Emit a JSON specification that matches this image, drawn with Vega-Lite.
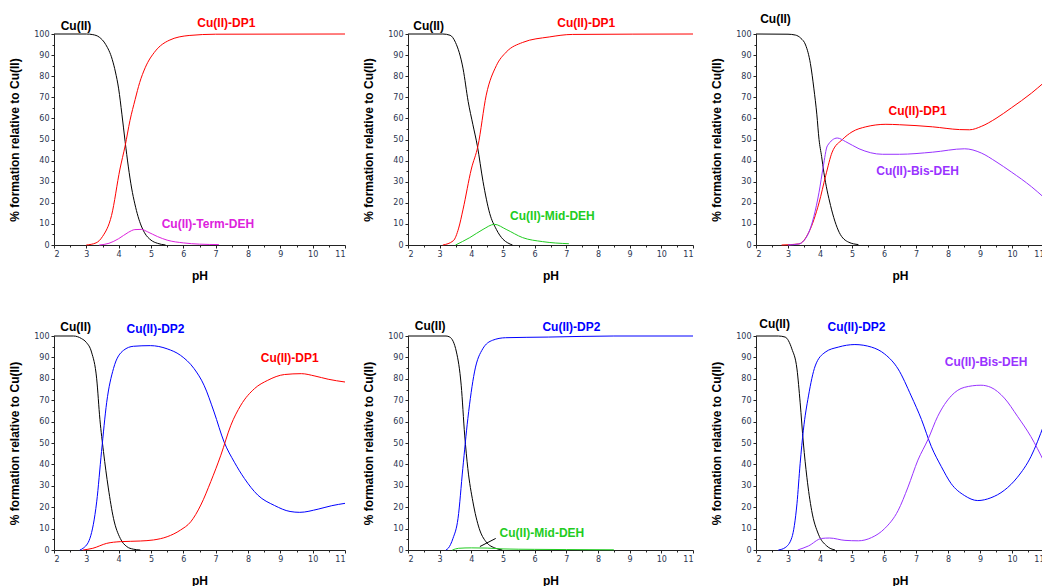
{
"$schema": "https://vega.github.io/schema/vega-lite/v6.json",
"background": "white",
"padding": {"left": 8, "top": 13, "right": 0, "bottom": 0},
"config": {
 "view": {"stroke": null},
 "axis": {"grid": false, "domainColor": "#222", "tickColor": "#222", "labelFont": "DejaVu Sans", "labelFontSize": 8, "labelColor": "#2a3550", "titleFont": "Liberation Sans", "titleFontSize": 12, "titleFontWeight": "bold", "titleColor": "#000", "domainWidth": 1, "tickWidth": 1}
},
"datasets": {
 "curves": [
  {"panel":1,"species":"Cu(II)","pH":2,"pct":100},{"panel":1,"species":"Cu(II)","pH":3,"pct":100},{"panel":1,"species":"Cu(II)","pH":3.2,"pct":99.7},{"panel":1,"species":"Cu(II)","pH":3.4,"pct":98.5},{"panel":1,"species":"Cu(II)","pH":3.6,"pct":95},{"panel":1,"species":"Cu(II)","pH":3.8,"pct":88},{"panel":1,"species":"Cu(II)","pH":3.9,"pct":82},{"panel":1,"species":"Cu(II)","pH":4.0,"pct":74},{"panel":1,"species":"Cu(II)","pH":4.1,"pct":62},{"panel":1,"species":"Cu(II)","pH":4.2,"pct":49},{"panel":1,"species":"Cu(II)","pH":4.3,"pct":37},{"panel":1,"species":"Cu(II)","pH":4.4,"pct":27},{"panel":1,"species":"Cu(II)","pH":4.5,"pct":19.5},{"panel":1,"species":"Cu(II)","pH":4.6,"pct":13.5},{"panel":1,"species":"Cu(II)","pH":4.7,"pct":9},{"panel":1,"species":"Cu(II)","pH":4.8,"pct":5.8},{"panel":1,"species":"Cu(II)","pH":5.0,"pct":2.3},{"panel":1,"species":"Cu(II)","pH":5.2,"pct":0.8},{"panel":1,"species":"Cu(II)","pH":5.45,"pct":0},
  {"panel":1,"species":"Cu(II)-DP1","pH":3.0,"pct":0},{"panel":1,"species":"Cu(II)-DP1","pH":3.3,"pct":1},{"panel":1,"species":"Cu(II)-DP1","pH":3.5,"pct":4},{"panel":1,"species":"Cu(II)-DP1","pH":3.78,"pct":14},{"panel":1,"species":"Cu(II)-DP1","pH":4.04,"pct":36},{"panel":1,"species":"Cu(II)-DP1","pH":4.2,"pct":47},{"panel":1,"species":"Cu(II)-DP1","pH":4.35,"pct":59},{"panel":1,"species":"Cu(II)-DP1","pH":4.51,"pct":69},{"panel":1,"species":"Cu(II)-DP1","pH":4.65,"pct":77},{"panel":1,"species":"Cu(II)-DP1","pH":4.82,"pct":84},{"panel":1,"species":"Cu(II)-DP1","pH":5.14,"pct":92},{"panel":1,"species":"Cu(II)-DP1","pH":5.56,"pct":97},{"panel":1,"species":"Cu(II)-DP1","pH":6.18,"pct":99.3},{"panel":1,"species":"Cu(II)-DP1","pH":7,"pct":99.9},{"panel":1,"species":"Cu(II)-DP1","pH":11,"pct":100},
  {"panel":1,"species":"Cu(II)-Term-DEH","pH":3.4,"pct":0},{"panel":1,"species":"Cu(II)-Term-DEH","pH":3.7,"pct":0.8},{"panel":1,"species":"Cu(II)-Term-DEH","pH":4.0,"pct":3},{"panel":1,"species":"Cu(II)-Term-DEH","pH":4.3,"pct":6},{"panel":1,"species":"Cu(II)-Term-DEH","pH":4.5,"pct":7.3},{"panel":1,"species":"Cu(II)-Term-DEH","pH":4.7,"pct":7.4},{"panel":1,"species":"Cu(II)-Term-DEH","pH":4.9,"pct":6.2},{"panel":1,"species":"Cu(II)-Term-DEH","pH":5.2,"pct":4},{"panel":1,"species":"Cu(II)-Term-DEH","pH":5.5,"pct":2.3},{"panel":1,"species":"Cu(II)-Term-DEH","pH":6.0,"pct":1},{"panel":1,"species":"Cu(II)-Term-DEH","pH":6.5,"pct":0.4},{"panel":1,"species":"Cu(II)-Term-DEH","pH":7.1,"pct":0.2},

  {"panel":2,"species":"Cu(II)","pH":2,"pct":100},{"panel":2,"species":"Cu(II)","pH":3.1,"pct":100},{"panel":2,"species":"Cu(II)","pH":3.33,"pct":99.4},{"panel":2,"species":"Cu(II)","pH":3.5,"pct":96},{"panel":2,"species":"Cu(II)","pH":3.74,"pct":83.5},{"panel":2,"species":"Cu(II)","pH":3.9,"pct":68},{"panel":2,"species":"Cu(II)","pH":4.05,"pct":57},{"panel":2,"species":"Cu(II)","pH":4.19,"pct":47},{"panel":2,"species":"Cu(II)","pH":4.37,"pct":30},{"panel":2,"species":"Cu(II)","pH":4.58,"pct":15},{"panel":2,"species":"Cu(II)","pH":4.79,"pct":7.4},{"panel":2,"species":"Cu(II)","pH":5.0,"pct":2.7},{"panel":2,"species":"Cu(II)","pH":5.15,"pct":1},{"panel":2,"species":"Cu(II)","pH":5.3,"pct":0},
  {"panel":2,"species":"Cu(II)-DP1","pH":3.1,"pct":0},{"panel":2,"species":"Cu(II)-DP1","pH":3.43,"pct":2},{"panel":2,"species":"Cu(II)-DP1","pH":3.6,"pct":8},{"panel":2,"species":"Cu(II)-DP1","pH":3.74,"pct":17},{"panel":2,"species":"Cu(II)-DP1","pH":4.0,"pct":36},{"panel":2,"species":"Cu(II)-DP1","pH":4.21,"pct":47},{"panel":2,"species":"Cu(II)-DP1","pH":4.47,"pct":71},{"panel":2,"species":"Cu(II)-DP1","pH":4.79,"pct":85},{"panel":2,"species":"Cu(II)-DP1","pH":5.1,"pct":91.4},{"panel":2,"species":"Cu(II)-DP1","pH":5.62,"pct":96},{"panel":2,"species":"Cu(II)-DP1","pH":6.46,"pct":98.6},{"panel":2,"species":"Cu(II)-DP1","pH":7.2,"pct":99.8},{"panel":2,"species":"Cu(II)-DP1","pH":11,"pct":100},
  {"panel":2,"species":"Cu(II)-Mid-DEH","pH":3.5,"pct":0},{"panel":2,"species":"Cu(II)-Mid-DEH","pH":3.95,"pct":3.5},{"panel":2,"species":"Cu(II)-Mid-DEH","pH":4.37,"pct":7.4},{"panel":2,"species":"Cu(II)-Mid-DEH","pH":4.73,"pct":9.8},{"panel":2,"species":"Cu(II)-Mid-DEH","pH":5.1,"pct":7.4},{"panel":2,"species":"Cu(II)-Mid-DEH","pH":5.62,"pct":3.5},{"panel":2,"species":"Cu(II)-Mid-DEH","pH":6.25,"pct":1.6},{"panel":2,"species":"Cu(II)-Mid-DEH","pH":7.08,"pct":0.6},

  {"panel":3,"species":"Cu(II)","pH":2,"pct":100},{"panel":3,"species":"Cu(II)","pH":3.0,"pct":99.9},{"panel":3,"species":"Cu(II)","pH":3.23,"pct":99.5},{"panel":3,"species":"Cu(II)","pH":3.4,"pct":98},{"panel":3,"species":"Cu(II)","pH":3.55,"pct":94.8},{"panel":3,"species":"Cu(II)","pH":3.7,"pct":86},{"panel":3,"species":"Cu(II)","pH":3.81,"pct":74},{"panel":3,"species":"Cu(II)","pH":3.9,"pct":62},{"panel":3,"species":"Cu(II)","pH":3.97,"pct":50},{"panel":3,"species":"Cu(II)","pH":4.05,"pct":42},{"panel":3,"species":"Cu(II)","pH":4.12,"pct":34.5},{"panel":3,"species":"Cu(II)","pH":4.33,"pct":18.7},{"panel":3,"species":"Cu(II)","pH":4.6,"pct":6},{"panel":3,"species":"Cu(II)","pH":4.9,"pct":1.3},{"panel":3,"species":"Cu(II)","pH":5.2,"pct":0.2},
  {"panel":3,"species":"Cu(II)-DP1","pH":2.8,"pct":0},{"panel":3,"species":"Cu(II)-DP1","pH":3.34,"pct":0.5},{"panel":3,"species":"Cu(II)-DP1","pH":3.65,"pct":6},{"panel":3,"species":"Cu(II)-DP1","pH":3.97,"pct":20},{"panel":3,"species":"Cu(II)-DP1","pH":4.18,"pct":33},{"panel":3,"species":"Cu(II)-DP1","pH":4.38,"pct":44},{"panel":3,"species":"Cu(II)-DP1","pH":4.7,"pct":50},{"panel":3,"species":"Cu(II)-DP1","pH":5.0,"pct":53.6},{"panel":3,"species":"Cu(II)-DP1","pH":5.43,"pct":56},{"panel":3,"species":"Cu(II)-DP1","pH":6.06,"pct":57.2},{"panel":3,"species":"Cu(II)-DP1","pH":6.48,"pct":57},{"panel":3,"species":"Cu(II)-DP1","pH":7.52,"pct":56},{"panel":3,"species":"Cu(II)-DP1","pH":8.36,"pct":54.7},{"panel":3,"species":"Cu(II)-DP1","pH":8.67,"pct":54.6},{"panel":3,"species":"Cu(II)-DP1","pH":9.04,"pct":56.2},{"panel":3,"species":"Cu(II)-DP1","pH":9.5,"pct":60},{"panel":3,"species":"Cu(II)-DP1","pH":9.98,"pct":65},{"panel":3,"species":"Cu(II)-DP1","pH":10.61,"pct":72},{"panel":3,"species":"Cu(II)-DP1","pH":11,"pct":77},
  {"panel":3,"species":"Cu(II)-Bis-DEH","pH":3.0,"pct":0},{"panel":3,"species":"Cu(II)-Bis-DEH","pH":3.34,"pct":0.5},{"panel":3,"species":"Cu(II)-Bis-DEH","pH":3.65,"pct":6},{"panel":3,"species":"Cu(II)-Bis-DEH","pH":3.97,"pct":25},{"panel":3,"species":"Cu(II)-Bis-DEH","pH":4.1,"pct":37},{"panel":3,"species":"Cu(II)-Bis-DEH","pH":4.23,"pct":47},{"panel":3,"species":"Cu(II)-Bis-DEH","pH":4.54,"pct":50.7},{"panel":3,"species":"Cu(II)-Bis-DEH","pH":4.8,"pct":49},{"panel":3,"species":"Cu(II)-Bis-DEH","pH":5.22,"pct":45.6},{"panel":3,"species":"Cu(II)-Bis-DEH","pH":5.95,"pct":43},{"panel":3,"species":"Cu(II)-Bis-DEH","pH":6.48,"pct":43},{"panel":3,"species":"Cu(II)-Bis-DEH","pH":7.52,"pct":44},{"panel":3,"species":"Cu(II)-Bis-DEH","pH":8.52,"pct":45.6},{"panel":3,"species":"Cu(II)-Bis-DEH","pH":9.04,"pct":43.6},{"panel":3,"species":"Cu(II)-Bis-DEH","pH":9.5,"pct":39.5},{"panel":3,"species":"Cu(II)-Bis-DEH","pH":9.98,"pct":34.6},{"panel":3,"species":"Cu(II)-Bis-DEH","pH":10.61,"pct":27.6},{"panel":3,"species":"Cu(II)-Bis-DEH","pH":11,"pct":22.5},

  {"panel":4,"species":"Cu(II)","pH":2,"pct":100},{"panel":4,"species":"Cu(II)","pH":2.6,"pct":100},{"panel":4,"species":"Cu(II)","pH":2.85,"pct":98.8},{"panel":4,"species":"Cu(II)","pH":3.0,"pct":97},{"panel":4,"species":"Cu(II)","pH":3.16,"pct":92.5},{"panel":4,"species":"Cu(II)","pH":3.32,"pct":80},{"panel":4,"species":"Cu(II)","pH":3.42,"pct":61},{"panel":4,"species":"Cu(II)","pH":3.53,"pct":46},{"panel":4,"species":"Cu(II)","pH":3.68,"pct":29},{"panel":4,"species":"Cu(II)","pH":3.84,"pct":14.8},{"panel":4,"species":"Cu(II)","pH":4.05,"pct":5.4},{"panel":4,"species":"Cu(II)","pH":4.25,"pct":1.6},{"panel":4,"species":"Cu(II)","pH":4.45,"pct":0.4},{"panel":4,"species":"Cu(II)","pH":4.67,"pct":0},
  {"panel":4,"species":"Cu(II)-DP2","pH":2.8,"pct":0},{"panel":4,"species":"Cu(II)-DP2","pH":2.9,"pct":0.8},{"panel":4,"species":"Cu(II)-DP2","pH":3.11,"pct":5.4},{"panel":4,"species":"Cu(II)-DP2","pH":3.32,"pct":22.5},{"panel":4,"species":"Cu(II)-DP2","pH":3.47,"pct":46},{"panel":4,"species":"Cu(II)-DP2","pH":3.63,"pct":69},{"panel":4,"species":"Cu(II)-DP2","pH":3.84,"pct":84.8},{"panel":4,"species":"Cu(II)-DP2","pH":4.15,"pct":93.3},{"panel":4,"species":"Cu(II)-DP2","pH":4.46,"pct":95.2},{"panel":4,"species":"Cu(II)-DP2","pH":4.98,"pct":95.5},{"panel":4,"species":"Cu(II)-DP2","pH":5.5,"pct":94},{"panel":4,"species":"Cu(II)-DP2","pH":5.91,"pct":91},{"panel":4,"species":"Cu(II)-DP2","pH":6.33,"pct":84.8},{"panel":4,"species":"Cu(II)-DP2","pH":6.64,"pct":77},{"panel":4,"species":"Cu(II)-DP2","pH":6.95,"pct":64.5},{"panel":4,"species":"Cu(II)-DP2","pH":7.26,"pct":50.5},{"panel":4,"species":"Cu(II)-DP2","pH":7.58,"pct":41},{"panel":4,"species":"Cu(II)-DP2","pH":7.89,"pct":33.4},{"panel":4,"species":"Cu(II)-DP2","pH":8.3,"pct":25.7},{"panel":4,"species":"Cu(II)-DP2","pH":8.82,"pct":20.8},{"panel":4,"species":"Cu(II)-DP2","pH":9.3,"pct":18},{"panel":4,"species":"Cu(II)-DP2","pH":9.6,"pct":17.6},{"panel":4,"species":"Cu(II)-DP2","pH":10.17,"pct":19.1},{"panel":4,"species":"Cu(II)-DP2","pH":10.59,"pct":20.7},{"panel":4,"species":"Cu(II)-DP2","pH":11,"pct":21.8},
  {"panel":4,"species":"Cu(II)-DP1","pH":2.9,"pct":0},{"panel":4,"species":"Cu(II)-DP1","pH":3.2,"pct":0.8},{"panel":4,"species":"Cu(II)-DP1","pH":3.63,"pct":3.1},{"panel":4,"species":"Cu(II)-DP1","pH":4.05,"pct":3.9},{"panel":4,"species":"Cu(II)-DP1","pH":4.67,"pct":4.2},{"panel":4,"species":"Cu(II)-DP1","pH":5.08,"pct":4.7},{"panel":4,"species":"Cu(II)-DP1","pH":5.5,"pct":6.2},{"panel":4,"species":"Cu(II)-DP1","pH":5.91,"pct":9.3},{"panel":4,"species":"Cu(II)-DP1","pH":6.23,"pct":13.2},{"panel":4,"species":"Cu(II)-DP1","pH":6.54,"pct":21},{"panel":4,"species":"Cu(II)-DP1","pH":6.85,"pct":32},{"panel":4,"species":"Cu(II)-DP1","pH":7.16,"pct":44.3},{"panel":4,"species":"Cu(II)-DP1","pH":7.47,"pct":58.3},{"panel":4,"species":"Cu(II)-DP1","pH":7.78,"pct":67.7},{"panel":4,"species":"Cu(II)-DP1","pH":8.2,"pct":75.4},{"panel":4,"species":"Cu(II)-DP1","pH":8.61,"pct":79.3},{"panel":4,"species":"Cu(II)-DP1","pH":9.13,"pct":82},{"panel":4,"species":"Cu(II)-DP1","pH":9.65,"pct":82.4},{"panel":4,"species":"Cu(II)-DP1","pH":10.07,"pct":81.3},{"panel":4,"species":"Cu(II)-DP1","pH":10.48,"pct":79.8},{"panel":4,"species":"Cu(II)-DP1","pH":11,"pct":78.5},

  {"panel":5,"species":"Cu(II)","pH":2,"pct":100},{"panel":5,"species":"Cu(II)","pH":3.2,"pct":100},{"panel":5,"species":"Cu(II)","pH":3.32,"pct":99.5},{"panel":5,"species":"Cu(II)","pH":3.53,"pct":92.5},{"panel":5,"species":"Cu(II)","pH":3.68,"pct":77},{"panel":5,"species":"Cu(II)","pH":3.79,"pct":53.7},{"panel":5,"species":"Cu(II)","pH":3.89,"pct":38},{"panel":5,"species":"Cu(II)","pH":4.05,"pct":22.5},{"panel":5,"species":"Cu(II)","pH":4.25,"pct":10},{"panel":5,"species":"Cu(II)","pH":4.46,"pct":3.9},{"panel":5,"species":"Cu(II)","pH":4.77,"pct":0.8},{"panel":5,"species":"Cu(II)","pH":4.98,"pct":0},
  {"panel":5,"species":"Cu(II)-DP2","pH":3.2,"pct":0},{"panel":5,"species":"Cu(II)-DP2","pH":3.27,"pct":0.8},{"panel":5,"species":"Cu(II)-DP2","pH":3.42,"pct":5.4},{"panel":5,"species":"Cu(II)-DP2","pH":3.58,"pct":14.8},{"panel":5,"species":"Cu(II)-DP2","pH":3.73,"pct":38},{"panel":5,"species":"Cu(II)-DP2","pH":3.89,"pct":61.4},{"panel":5,"species":"Cu(II)-DP2","pH":4.1,"pct":83.2},{"panel":5,"species":"Cu(II)-DP2","pH":4.36,"pct":94},{"panel":5,"species":"Cu(II)-DP2","pH":4.67,"pct":98},{"panel":5,"species":"Cu(II)-DP2","pH":5.08,"pct":99.2},{"panel":5,"species":"Cu(II)-DP2","pH":6.43,"pct":99.5},{"panel":5,"species":"Cu(II)-DP2","pH":8.5,"pct":100},{"panel":5,"species":"Cu(II)-DP2","pH":11,"pct":100},
  {"panel":5,"species":"Cu(II)-Mid-DEH","pH":3.4,"pct":0},{"panel":5,"species":"Cu(II)-Mid-DEH","pH":3.6,"pct":0.8},{"panel":5,"species":"Cu(II)-Mid-DEH","pH":4.0,"pct":1},{"panel":5,"species":"Cu(II)-Mid-DEH","pH":4.5,"pct":0.9},{"panel":5,"species":"Cu(II)-Mid-DEH","pH":5.0,"pct":0.5},{"panel":5,"species":"Cu(II)-Mid-DEH","pH":6,"pct":0.3},{"panel":5,"species":"Cu(II)-Mid-DEH","pH":7,"pct":0.2},{"panel":5,"species":"Cu(II)-Mid-DEH","pH":8.5,"pct":0.1},

  {"panel":6,"species":"Cu(II)","pH":2,"pct":100},{"panel":6,"species":"Cu(II)","pH":2.7,"pct":100},{"panel":6,"species":"Cu(II)","pH":2.91,"pct":99.5},{"panel":6,"species":"Cu(II)","pH":3.12,"pct":94},{"panel":6,"species":"Cu(II)","pH":3.28,"pct":84.6},{"panel":6,"species":"Cu(II)","pH":3.38,"pct":68.8},{"panel":6,"species":"Cu(II)","pH":3.48,"pct":50},{"panel":6,"species":"Cu(II)","pH":3.59,"pct":34},{"panel":6,"species":"Cu(II)","pH":3.74,"pct":18.4},{"panel":6,"species":"Cu(II)","pH":3.95,"pct":7.4},{"panel":6,"species":"Cu(II)","pH":4.21,"pct":1.9},{"panel":6,"species":"Cu(II)","pH":4.47,"pct":0},
  {"panel":6,"species":"Cu(II)-DP2","pH":2.7,"pct":0},{"panel":6,"species":"Cu(II)-DP2","pH":2.91,"pct":1.1},{"panel":6,"species":"Cu(II)-DP2","pH":3.12,"pct":5.8},{"panel":6,"species":"Cu(II)-DP2","pH":3.28,"pct":21.6},{"panel":6,"species":"Cu(II)-DP2","pH":3.38,"pct":40.5},{"panel":6,"species":"Cu(II)-DP2","pH":3.48,"pct":56},{"panel":6,"species":"Cu(II)-DP2","pH":3.64,"pct":72},{"panel":6,"species":"Cu(II)-DP2","pH":3.85,"pct":86},{"panel":6,"species":"Cu(II)-DP2","pH":4.16,"pct":92.4},{"panel":6,"species":"Cu(II)-DP2","pH":4.57,"pct":94.8},{"panel":6,"species":"Cu(II)-DP2","pH":5.09,"pct":96},{"panel":6,"species":"Cu(II)-DP2","pH":5.61,"pct":94.8},{"panel":6,"species":"Cu(II)-DP2","pH":6.02,"pct":91.6},{"panel":6,"species":"Cu(II)-DP2","pH":6.44,"pct":84.6},{"panel":6,"species":"Cu(II)-DP2","pH":6.85,"pct":72},{"panel":6,"species":"Cu(II)-DP2","pH":7.17,"pct":61},{"panel":6,"species":"Cu(II)-DP2","pH":7.48,"pct":48.3},{"panel":6,"species":"Cu(II)-DP2","pH":7.79,"pct":39},{"panel":6,"species":"Cu(II)-DP2","pH":8.1,"pct":31},{"panel":6,"species":"Cu(II)-DP2","pH":8.51,"pct":25.5},{"panel":6,"species":"Cu(II)-DP2","pH":8.93,"pct":23.1},{"panel":6,"species":"Cu(II)-DP2","pH":9.34,"pct":24.4},{"panel":6,"species":"Cu(II)-DP2","pH":9.76,"pct":27.9},{"panel":6,"species":"Cu(II)-DP2","pH":10.17,"pct":34},{"panel":6,"species":"Cu(II)-DP2","pH":10.59,"pct":43.6},{"panel":6,"species":"Cu(II)-DP2","pH":11,"pct":58.6},
  {"panel":6,"species":"Cu(II)-Bis-DEH","pH":3.3,"pct":0},{"panel":6,"species":"Cu(II)-Bis-DEH","pH":3.64,"pct":1.9},{"panel":6,"species":"Cu(II)-Bis-DEH","pH":4.05,"pct":5.4},{"panel":6,"species":"Cu(II)-Bis-DEH","pH":4.3,"pct":5.6},{"panel":6,"species":"Cu(II)-Bis-DEH","pH":4.78,"pct":4.5},{"panel":6,"species":"Cu(II)-Bis-DEH","pH":5.2,"pct":4.3},{"panel":6,"species":"Cu(II)-Bis-DEH","pH":5.61,"pct":5.8},{"panel":6,"species":"Cu(II)-Bis-DEH","pH":6.02,"pct":10},{"panel":6,"species":"Cu(II)-Bis-DEH","pH":6.44,"pct":18.4},{"panel":6,"species":"Cu(II)-Bis-DEH","pH":6.75,"pct":29.4},{"panel":6,"species":"Cu(II)-Bis-DEH","pH":7.06,"pct":42},{"panel":6,"species":"Cu(II)-Bis-DEH","pH":7.37,"pct":51.5},{"panel":6,"species":"Cu(II)-Bis-DEH","pH":7.68,"pct":62.5},{"panel":6,"species":"Cu(II)-Bis-DEH","pH":8.1,"pct":72},{"panel":6,"species":"Cu(II)-Bis-DEH","pH":8.51,"pct":76},{"panel":6,"species":"Cu(II)-Bis-DEH","pH":9.03,"pct":77},{"panel":6,"species":"Cu(II)-Bis-DEH","pH":9.34,"pct":76},{"panel":6,"species":"Cu(II)-Bis-DEH","pH":9.76,"pct":71},{"panel":6,"species":"Cu(II)-Bis-DEH","pH":10.17,"pct":62.5},{"panel":6,"species":"Cu(II)-Bis-DEH","pH":10.59,"pct":53},{"panel":6,"species":"Cu(II)-Bis-DEH","pH":11,"pct":41.3}
 ],
 "labels": [
  {"panel":1,"species":"Cu(II)","pH":2.68,"pct":104},{"panel":1,"species":"Cu(II)-DP1","pH":7.33,"pct":105},{"panel":1,"species":"Cu(II)-Term-DEH","pH":6.76,"pct":10},
  {"panel":2,"species":"Cu(II)","pH":2.65,"pct":104},{"panel":2,"species":"Cu(II)-DP1","pH":7.63,"pct":105},{"panel":2,"species":"Cu(II)-Mid-DEH","pH":6.56,"pct":13.8},
  {"panel":3,"species":"Cu(II)","pH":2.61,"pct":107},{"panel":3,"species":"Cu(II)-DP1","pH":7.05,"pct":63.4},{"panel":3,"species":"Cu(II)-Bis-DEH","pH":7.05,"pct":35.3},
  {"panel":4,"species":"Cu(II)","pH":2.67,"pct":104.2},{"panel":4,"species":"Cu(II)-DP2","pH":5.14,"pct":103.4},{"panel":4,"species":"Cu(II)-DP1","pH":9.29,"pct":89.7},
  {"panel":5,"species":"Cu(II)","pH":2.7,"pct":104.7},{"panel":5,"species":"Cu(II)-DP2","pH":7.16,"pct":104.2},{"panel":5,"species":"Cu(II)-Mid-DEH","pH":6.23,"pct":7.8},
  {"panel":6,"species":"Cu(II)","pH":2.58,"pct":105.8},{"panel":6,"species":"Cu(II)-DP2","pH":5.14,"pct":104.3},{"panel":6,"species":"Cu(II)-Bis-DEH","pH":9.19,"pct":87.7}
 ],
 "arrows": [
  {"panel":5,"pH":4.77,"pct":5.4,"pH2":4.27,"pct2":1.6}
 ]
},
"columns": 3,
"spacing": {"row": 91, "column": 63},
"bounds": "flush",
"concat": [
   {"width":291,"height":211,"layer":[
    {"data":{"name":"curves"},"transform":[{"filter":"datum.panel == 1"}],"mark":{"type":"line","interpolate":"monotone","strokeWidth":1},"encoding":{"x":{"field":"pH","type":"quantitative","scale":{"domain":[2,11],"nice":false},"axis":{"title":"pH","values":[2,3,4,5,6,7,8,9,10,11],"tickSize":3,"labelPadding":2,"titlePadding":12}},"y":{"field":"pct","type":"quantitative","scale":{"domain":[0,100],"nice":false},"axis":{"title":"% formation relative to Cu(II)","values":[0,10,20,30,40,50,60,70,80,90,100],"tickSize":3,"labelPadding":2,"titlePadding":12}},"color":{"field":"species","type":"nominal","scale":{"domain":["Cu(II)","Cu(II)-DP1","Cu(II)-DP2","Cu(II)-Term-DEH","Cu(II)-Mid-DEH","Cu(II)-Bis-DEH"],"range":["#000000","#ff0000","#0000ff","#dd22dd","#22cc22","#9933ff"]},"legend":null}}},
    {"data":{"name":"labels"},"transform":[{"filter":"datum.panel == 1"}],"mark":{"type":"text","fontWeight":"bold","fontSize":12,"font":"Liberation Sans"},"encoding":{"x":{"field":"pH","type":"quantitative","axis":{"orient":"bottom","values":[2.5,3.5,4.5,5.5,6.5,7.5,8.5,9.5,10.5],"labels":false,"title":null,"domain":false,"tickSize":2}},"y":{"field":"pct","type":"quantitative","axis":{"orient":"left","values":[5,15,25,35,45,55,65,75,85,95],"labels":false,"title":null,"domain":false,"tickSize":2}},"text":{"field":"species"},"color":{"field":"species","type":"nominal","legend":null}}}
   ],"resolve":{"axis":{"x":"independent","y":"independent"}}},
   {"width":285,"height":211,"layer":[
    {"data":{"name":"curves"},"transform":[{"filter":"datum.panel == 2"}],"mark":{"type":"line","interpolate":"monotone","strokeWidth":1},"encoding":{"x":{"field":"pH","type":"quantitative","scale":{"domain":[2,11],"nice":false},"axis":{"title":"pH","values":[2,3,4,5,6,7,8,9,10,11],"tickSize":3,"labelPadding":2,"titlePadding":12}},"y":{"field":"pct","type":"quantitative","scale":{"domain":[0,100],"nice":false},"axis":{"title":"% formation relative to Cu(II)","values":[0,10,20,30,40,50,60,70,80,90,100],"tickSize":3,"labelPadding":2,"titlePadding":12}},"color":{"field":"species","type":"nominal","scale":{"domain":["Cu(II)","Cu(II)-DP1","Cu(II)-DP2","Cu(II)-Term-DEH","Cu(II)-Mid-DEH","Cu(II)-Bis-DEH"],"range":["#000000","#ff0000","#0000ff","#dd22dd","#22cc22","#9933ff"]},"legend":null}}},
    {"data":{"name":"labels"},"transform":[{"filter":"datum.panel == 2"}],"mark":{"type":"text","fontWeight":"bold","fontSize":12,"font":"Liberation Sans"},"encoding":{"x":{"field":"pH","type":"quantitative","axis":{"orient":"bottom","values":[2.5,3.5,4.5,5.5,6.5,7.5,8.5,9.5,10.5],"labels":false,"title":null,"domain":false,"tickSize":2}},"y":{"field":"pct","type":"quantitative","axis":{"orient":"left","values":[5,15,25,35,45,55,65,75,85,95],"labels":false,"title":null,"domain":false,"tickSize":2}},"text":{"field":"species"},"color":{"field":"species","type":"nominal","legend":null}}}
   ],"resolve":{"axis":{"x":"independent","y":"independent"}}},
   {"width":288,"height":211,"layer":[
    {"data":{"name":"curves"},"transform":[{"filter":"datum.panel == 3"}],"mark":{"type":"line","interpolate":"monotone","strokeWidth":1},"encoding":{"x":{"field":"pH","type":"quantitative","scale":{"domain":[2,11],"nice":false},"axis":{"title":"pH","values":[2,3,4,5,6,7,8,9,10,11],"tickSize":3,"labelPadding":2,"titlePadding":12}},"y":{"field":"pct","type":"quantitative","scale":{"domain":[0,100],"nice":false},"axis":{"title":"% formation relative to Cu(II)","values":[0,10,20,30,40,50,60,70,80,90,100],"tickSize":3,"labelPadding":2,"titlePadding":12}},"color":{"field":"species","type":"nominal","scale":{"domain":["Cu(II)","Cu(II)-DP1","Cu(II)-DP2","Cu(II)-Term-DEH","Cu(II)-Mid-DEH","Cu(II)-Bis-DEH"],"range":["#000000","#ff0000","#0000ff","#dd22dd","#22cc22","#9933ff"]},"legend":null}}},
    {"data":{"name":"labels"},"transform":[{"filter":"datum.panel == 3"}],"mark":{"type":"text","fontWeight":"bold","fontSize":12,"font":"Liberation Sans"},"encoding":{"x":{"field":"pH","type":"quantitative","axis":{"orient":"bottom","values":[2.5,3.5,4.5,5.5,6.5,7.5,8.5,9.5,10.5],"labels":false,"title":null,"domain":false,"tickSize":2}},"y":{"field":"pct","type":"quantitative","axis":{"orient":"left","values":[5,15,25,35,45,55,65,75,85,95],"labels":false,"title":null,"domain":false,"tickSize":2}},"text":{"field":"species"},"color":{"field":"species","type":"nominal","legend":null}}}
   ],"resolve":{"axis":{"x":"independent","y":"independent"}}},
   {"width":291,"height":214,"layer":[
    {"data":{"name":"curves"},"transform":[{"filter":"datum.panel == 4"}],"mark":{"type":"line","interpolate":"monotone","strokeWidth":1},"encoding":{"x":{"field":"pH","type":"quantitative","scale":{"domain":[2,11],"nice":false},"axis":{"title":"pH","values":[2,3,4,5,6,7,8,9,10,11],"tickSize":3,"labelPadding":2,"titlePadding":12}},"y":{"field":"pct","type":"quantitative","scale":{"domain":[0,100],"nice":false},"axis":{"title":"% formation relative to Cu(II)","values":[0,10,20,30,40,50,60,70,80,90,100],"tickSize":3,"labelPadding":2,"titlePadding":12}},"color":{"field":"species","type":"nominal","scale":{"domain":["Cu(II)","Cu(II)-DP1","Cu(II)-DP2","Cu(II)-Term-DEH","Cu(II)-Mid-DEH","Cu(II)-Bis-DEH"],"range":["#000000","#ff0000","#0000ff","#dd22dd","#22cc22","#9933ff"]},"legend":null}}},
    {"data":{"name":"labels"},"transform":[{"filter":"datum.panel == 4"}],"mark":{"type":"text","fontWeight":"bold","fontSize":12,"font":"Liberation Sans"},"encoding":{"x":{"field":"pH","type":"quantitative","axis":{"orient":"bottom","values":[2.5,3.5,4.5,5.5,6.5,7.5,8.5,9.5,10.5],"labels":false,"title":null,"domain":false,"tickSize":2}},"y":{"field":"pct","type":"quantitative","axis":{"orient":"left","values":[5,15,25,35,45,55,65,75,85,95],"labels":false,"title":null,"domain":false,"tickSize":2}},"text":{"field":"species"},"color":{"field":"species","type":"nominal","legend":null}}}
   ],"resolve":{"axis":{"x":"independent","y":"independent"}}},
   {"width":285,"height":214,"layer":[
    {"data":{"name":"curves"},"transform":[{"filter":"datum.panel == 5"}],"mark":{"type":"line","interpolate":"monotone","strokeWidth":1},"encoding":{"x":{"field":"pH","type":"quantitative","scale":{"domain":[2,11],"nice":false},"axis":{"title":"pH","values":[2,3,4,5,6,7,8,9,10,11],"tickSize":3,"labelPadding":2,"titlePadding":12}},"y":{"field":"pct","type":"quantitative","scale":{"domain":[0,100],"nice":false},"axis":{"title":"% formation relative to Cu(II)","values":[0,10,20,30,40,50,60,70,80,90,100],"tickSize":3,"labelPadding":2,"titlePadding":12}},"color":{"field":"species","type":"nominal","scale":{"domain":["Cu(II)","Cu(II)-DP1","Cu(II)-DP2","Cu(II)-Term-DEH","Cu(II)-Mid-DEH","Cu(II)-Bis-DEH"],"range":["#000000","#ff0000","#0000ff","#dd22dd","#22cc22","#9933ff"]},"legend":null}}},
    {"data":{"name":"labels"},"transform":[{"filter":"datum.panel == 5"}],"mark":{"type":"text","fontWeight":"bold","fontSize":12,"font":"Liberation Sans"},"encoding":{"x":{"field":"pH","type":"quantitative","axis":{"orient":"bottom","values":[2.5,3.5,4.5,5.5,6.5,7.5,8.5,9.5,10.5],"labels":false,"title":null,"domain":false,"tickSize":2}},"y":{"field":"pct","type":"quantitative","axis":{"orient":"left","values":[5,15,25,35,45,55,65,75,85,95],"labels":false,"title":null,"domain":false,"tickSize":2}},"text":{"field":"species"},"color":{"field":"species","type":"nominal","legend":null}}},
    {"data":{"name":"arrows"},"mark":{"type":"rule","color":"#000","strokeWidth":1},"encoding":{"x":{"field":"pH","type":"quantitative","axis":null},"y":{"field":"pct","type":"quantitative","axis":null},"x2":{"field":"pH2"},"y2":{"field":"pct2"}}}
   ],"resolve":{"axis":{"x":"independent","y":"independent"}}},
   {"width":288,"height":214,"layer":[
    {"data":{"name":"curves"},"transform":[{"filter":"datum.panel == 6"}],"mark":{"type":"line","interpolate":"monotone","strokeWidth":1},"encoding":{"x":{"field":"pH","type":"quantitative","scale":{"domain":[2,11],"nice":false},"axis":{"title":"pH","values":[2,3,4,5,6,7,8,9,10,11],"tickSize":3,"labelPadding":2,"titlePadding":12}},"y":{"field":"pct","type":"quantitative","scale":{"domain":[0,100],"nice":false},"axis":{"title":"% formation relative to Cu(II)","values":[0,10,20,30,40,50,60,70,80,90,100],"tickSize":3,"labelPadding":2,"titlePadding":12}},"color":{"field":"species","type":"nominal","scale":{"domain":["Cu(II)","Cu(II)-DP1","Cu(II)-DP2","Cu(II)-Term-DEH","Cu(II)-Mid-DEH","Cu(II)-Bis-DEH"],"range":["#000000","#ff0000","#0000ff","#dd22dd","#22cc22","#9933ff"]},"legend":null}}},
    {"data":{"name":"labels"},"transform":[{"filter":"datum.panel == 6"}],"mark":{"type":"text","fontWeight":"bold","fontSize":12,"font":"Liberation Sans"},"encoding":{"x":{"field":"pH","type":"quantitative","axis":{"orient":"bottom","values":[2.5,3.5,4.5,5.5,6.5,7.5,8.5,9.5,10.5],"labels":false,"title":null,"domain":false,"tickSize":2}},"y":{"field":"pct","type":"quantitative","axis":{"orient":"left","values":[5,15,25,35,45,55,65,75,85,95],"labels":false,"title":null,"domain":false,"tickSize":2}},"text":{"field":"species"},"color":{"field":"species","type":"nominal","legend":null}}}
   ],"resolve":{"axis":{"x":"independent","y":"independent"}}}
]
}
